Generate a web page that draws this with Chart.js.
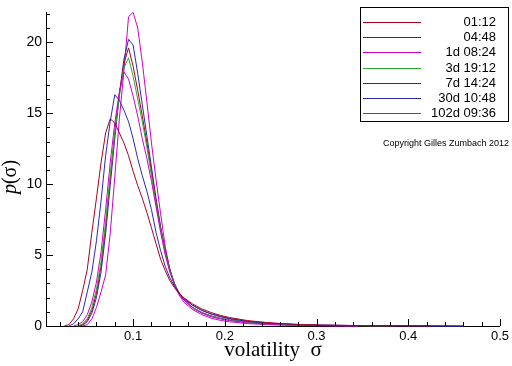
<!DOCTYPE html>
<html>
<head>
<meta charset="utf-8">
<script src="https://cdn.jsdelivr.net/npm/chart.js@4"></script>
<style>
  html, body { margin: 0; padding: 0; background: #fff; }
  #wrap { width: 512px; height: 366px; }
</style>
</head>
<body>
<div id="wrap"><canvas id="chart"></canvas></div>
<script>
// volatility grid (x) shared by all curves
const sigma = [0.025, 0.03, 0.035, 0.04, 0.045, 0.05, 0.055, 0.06, 0.065, 0.07,
  0.075, 0.08, 0.085, 0.09, 0.095, 0.1, 0.105, 0.11, 0.115, 0.12,
  0.125, 0.13, 0.135, 0.14, 0.145, 0.15, 0.155, 0.165, 0.175, 0.185,
  0.195, 0.205, 0.225, 0.245, 0.265, 0.285, 0.305, 0.345, 0.385, 0.425, 0.46];

const seriesNames = ['01:12', '04:48', '1d 08:24', '3d 19:12', '7d 14:24', '30d 10:48', '102d 09:36'];
const seriesColors = ['#aa001e', '#2a2ab0', '#cc00cc', '#2aaa2a', '#aa001e', '#2a2ab0', '#cc00cc'];

// p(sigma) per time horizon
const p01h12 = [0, 0.1, 0.5, 1.2, 2.5, 4.0, 6.6, 9.0, 11.5, 13.6, 14.6, 14.3, 13.6, 12.9, 12.0, 10.9, 9.9, 9.0, 8.0, 6.9,
  5.8, 4.7, 3.9, 3.2, 2.7, 2.3, 2.0, 1.55, 1.2, 0.95, 0.75, 0.6, 0.38, 0.25, 0.16, 0.1, 0.06, 0.03, 0.01, null, null];
const p04h48 = [null, 0, 0.15, 0.5, 1.0, 2.4, 3.8, 6.0, 8.8, 12.0, 14.4, 16.3, 15.9, 15.2, 14.4, 13.2, 11.8, 10.6, 9.5, 8.2,
  6.6, 5.3, 4.2, 3.4, 2.8, 2.35, 1.95, 1.45, 1.1, 0.85, 0.68, 0.52, 0.33, 0.21, 0.14, 0.09, 0.06, 0.03, 0.02, 0.01, 0];
const p1d = [null, null, 0, 0.1, 0.3, 0.8, 1.7, 3.1, 5.2, 8.2, 11.5, 14.3, 16.5, 17.9, 17.4, 16.2, 14.8, 13.2, 11.8, 10.2,
  8.4, 6.6, 5.0, 3.8, 2.9, 2.3, 1.85, 1.25, 0.9, 0.65, 0.5, 0.38, 0.22, 0.14, 0.08, 0.05, 0.03, 0, null, null, null];
const p3d = [null, null, null, 0, 0.15, 0.5, 1.3, 2.6, 4.5, 7.3, 10.6, 13.6, 16.2, 18.2, 18.9, 17.6, 16.0, 14.4, 12.6, 10.6,
  8.6, 6.8, 5.2, 3.9, 3.0, 2.35, 1.9, 1.3, 0.95, 0.7, 0.53, 0.42, 0.26, 0.16, 0.1, 0.06, 0.04, 0.02, 0.01, null, null];
const p7d = [null, null, null, 0, 0.1, 0.4, 1.1, 2.3, 4.2, 7.0, 10.4, 13.6, 16.4, 18.5, 19.6, 18.3, 16.6, 14.8, 12.9, 10.9,
  8.8, 6.9, 5.3, 4.0, 3.0, 2.35, 1.95, 1.45, 1.1, 0.85, 0.66, 0.52, 0.33, 0.21, 0.13, 0.08, 0.05, 0.03, 0.015, 0, null];
const p30d = [null, null, null, 0, 0.05, 0.3, 0.9, 2.0, 3.8, 6.5, 9.9, 13.2, 16.3, 18.8, 20.2, 19.8, 17.8, 15.6, 13.4, 11.2,
  9.0, 7.0, 5.3, 4.0, 3.0, 2.3, 1.85, 1.3, 0.95, 0.72, 0.55, 0.43, 0.28, 0.18, 0.12, 0.08, 0.05, 0.03, 0.02, 0.01, 0];
const p102d = [null, null, null, null, 0, 0.1, 0.5, 1.3, 2.4, 3.6, 6.5, 10.5, 14.6, 18.0, 21.8, 22.1, 21.0, 18.6, 15.8, 12.9,
  10.3, 7.9, 5.6, 4.0, 2.9, 2.2, 1.7, 1.15, 0.8, 0.55, 0.4, 0.3, 0.17, 0.1, 0.06, 0.04, 0.02, 0, null, null, null];

const seriesValues = [p01h12, p04h48, p1d, p3d, p7d, p30d, p102d];

const xTickValues = [0.1, 0.2, 0.3, 0.4, 0.5];
const yTickValues = [0, 5, 10, 15, 20];

// tick marks pointing into the plot, long ones on labelled values
const innerTicks = {
  id: 'innerTicks',
  afterDraw(chart) {
    const { ctx, chartArea: a, scales: { x, y } } = chart;
    ctx.save();
    ctx.strokeStyle = '#000';
    ctx.lineWidth = 1;
    ctx.beginPath();
    for (let i = 1; i <= 25; i++) {
      const px = Math.round(x.getPixelForValue(i * 0.02)) + 0.5;
      const len = i % 5 === 0 ? 7 : 4;
      ctx.moveTo(px, a.bottom);
      ctx.lineTo(px, a.bottom - len);
    }
    for (let i = 1; i <= 22; i++) {
      const py = Math.round(y.getPixelForValue(i)) + 0.5;
      const len = i % 5 === 0 ? 7 : 4;
      ctx.moveTo(a.left, py);
      ctx.lineTo(a.left + len, py);
    }
    ctx.stroke();
    ctx.restore();
  }
};

// boxed legend with right-aligned labels, plus titles and copyright
const decorations = {
  id: 'decorations',
  afterDraw(chart) {
    const { ctx, chartArea: a } = chart;
    ctx.save();

    // legend box
    const bx = 360.5, by = 7.5, bw = 148, bh = 114;
    ctx.fillStyle = '#fff';
    ctx.fillRect(bx, by, bw, bh);
    ctx.strokeStyle = '#000';
    ctx.lineWidth = 1;
    ctx.strokeRect(bx, by, bw, bh);
    ctx.font = '13px "Liberation Sans", Arial, sans-serif';
    ctx.textAlign = 'right';
    ctx.textBaseline = 'middle';
    chart.data.datasets.forEach((ds, i) => {
      const ly = Math.round(22 + i * 15.2) + 0.5;
      ctx.strokeStyle = ds.borderColor;
      ctx.beginPath();
      ctx.moveTo(363, ly);
      ctx.lineTo(421, ly);
      ctx.stroke();
      ctx.fillStyle = '#000';
      ctx.fillText(ds.label, 496, ly);
    });

    // copyright
    ctx.font = '9px "Liberation Sans", Arial, sans-serif';
    ctx.textAlign = 'left';
    ctx.fillText('Copyright Gilles Zumbach 2012', 383, 144);

    // x title
    ctx.font = '21px "Liberation Serif", "Times New Roman", serif';
    ctx.textAlign = 'center';
    ctx.fillText('volatility  \u03c3', (a.left + a.right) / 2, 350);

    // y title
    ctx.translate(11, 177);
    ctx.rotate(-Math.PI / 2);
    ctx.textAlign = 'left';
    ctx.font = 'italic 20px "Liberation Serif", "Times New Roman", serif';
    const wp = ctx.measureText('p').width;
    ctx.font = '20px "Liberation Serif", "Times New Roman", serif';
    const wr = ctx.measureText('(\u03c3)').width;
    const x0 = -(wp + wr) / 2;
    ctx.font = 'italic 20px "Liberation Serif", "Times New Roman", serif';
    ctx.fillText('p', x0, 0);
    ctx.font = '20px "Liberation Serif", "Times New Roman", serif';
    ctx.fillText('(\u03c3)', x0 + wp, 0);

    ctx.restore();
  }
};

const datasets = seriesValues.map((vals, i) => ({
  label: seriesNames[i],
  data: vals.map((v, k) => ({ x: sigma[k], y: v })),
  borderColor: seriesColors[i],
  borderWidth: 1,
  pointRadius: 0,
  tension: 0,
  fill: false,
  spanGaps: false
}));

new Chart(document.getElementById('chart'), {
  type: 'line',
  data: { datasets },
  options: {
    responsive: true,
    maintainAspectRatio: false,
    animation: false,
    clip: false,
    layout: { padding: { top: 8, right: 12, left: 0, bottom: 0 } },
    plugins: {
      legend: { display: false },
      tooltip: { enabled: false }
    },
    scales: {
      x: {
        type: 'linear',
        min: 0.005,
        max: 0.5,
        grid: { display: false, drawTicks: false },
        border: { display: true, color: '#000', width: 1 },
        afterBuildTicks: s => { s.ticks = xTickValues.map(v => ({ value: v })); },
        afterFit: s => { s.height = 40; },
        ticks: {
          autoSkip: false,
          maxRotation: 0,
          padding: 3,
          color: '#000',
          font: { family: '"Liberation Sans", Arial, sans-serif', size: 13 },
          callback: v => v.toFixed(1)
        }
      },
      y: {
        min: 0,
        max: 22.1,
        grid: { display: false, drawTicks: false },
        border: { display: true, color: '#000', width: 1 },
        afterBuildTicks: s => { s.ticks = yTickValues.map(v => ({ value: v })); },
        afterFit: s => { s.width = 46; },
        ticks: {
          padding: 4,
          color: '#000',
          font: { family: '"Liberation Sans", Arial, sans-serif', size: 14 },
          callback: v => String(v)
        }
      }
    }
  },
  plugins: [innerTicks, decorations]
});
</script>
</body>
</html>
